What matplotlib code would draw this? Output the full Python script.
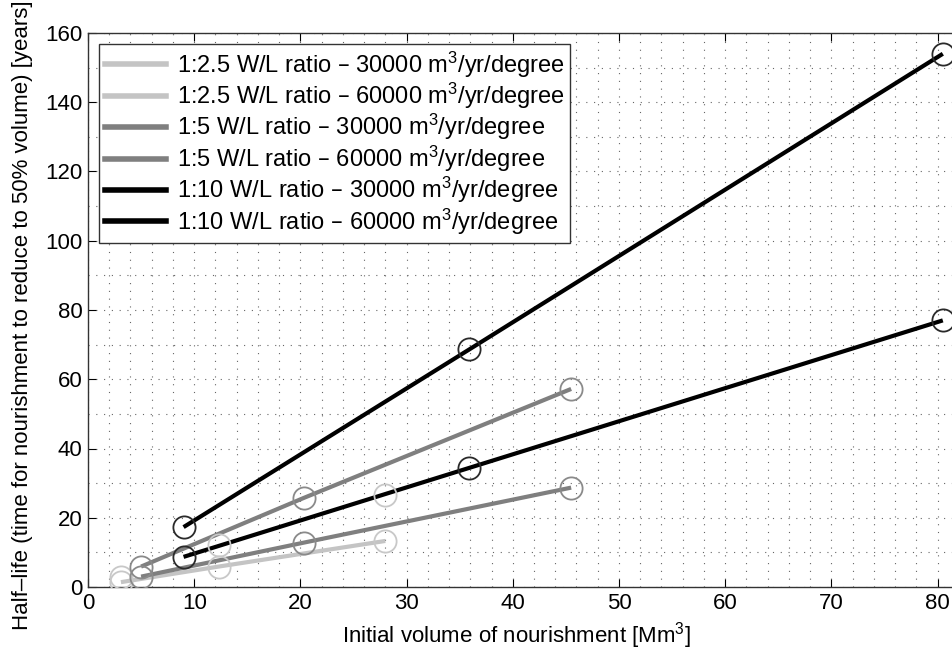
import matplotlib
matplotlib.use("Agg")
import matplotlib.pyplot as plt
from matplotlib.lines import Line2D
from matplotlib.ticker import MultipleLocator, FixedLocator

plt.rcParams['font.family'] = ['Liberation Sans', 'DejaVu Sans']
plt.rcParams['mathtext.default'] = 'regular'

# Data
labels = [
    "1:2.5 W/L ratio \u2013 30000 m$^3$/yr/degree",
    "1:2.5 W/L ratio \u2013 60000 m$^3$/yr/degree",
    "1:5 W/L ratio \u2013 30000 m$^3$/yr/degree",
    "1:5 W/L ratio \u2013 60000 m$^3$/yr/degree",
    "1:10 W/L ratio \u2013 30000 m$^3$/yr/degree",
    "1:10 W/L ratio \u2013 60000 m$^3$/yr/degree",
]
xtick_vals = [0, 10, 20, 30, 40, 50, 60, 70, 80]
vol_25 = [3.1, 12.3, 28.0]
vol_5 = [5.0, 20.3, 45.5]
vol_10 = [9.0, 35.9, 80.5]
half_25_30k = [2.8, 12.1, 26.6]
half_25_60k = [1.4, 5.9, 13.3]
half_5_30k = [5.9, 25.7, 57.2]
half_5_60k = [3.0, 12.8, 28.7]
half_10_30k = [17.3, 68.6, 154.0]
half_10_60k = [8.7, 34.4, 77.0]
draw_line = [False, True, True, True, True, True]

xs = [vol_25, vol_25, vol_5, vol_5, vol_10, vol_10]
ys = [half_25_30k, half_25_60k, half_5_30k, half_5_60k, half_10_30k, half_10_60k]
colors = ['#c4c4c4', '#c4c4c4', '#7f7f7f', '#7f7f7f', '#000000', '#000000']
mcolors = ['#c8c8c8', '#c8c8c8', '#8a8a8a', '#8a8a8a', '#2a2a2a', '#2a2a2a']

W, H = 952, 655
fig = plt.figure(figsize=(W / 100, H / 100), dpi=100)
x0, x80 = 88, 937.5
ppu = (x80 - x0) / 80
xmax = 90
ax_w = xmax * ppu
ax = fig.add_axes([x0 / W, (H - 587) / H, ax_w / W, (587 - 33) / H])

for x, y, c, mc, dl in zip(xs, ys, colors, mcolors, draw_line):
    if dl:
        ax.plot(x, y, color=c, lw=3.0, solid_capstyle='butt', zorder=3)
    ax.plot(x, y, linestyle='none', marker='o', markersize=16,
            markerfacecolor='none', markeredgecolor=mc, markeredgewidth=1.3, zorder=4)

ax.set_xlim(0, xmax)
ax.set_ylim(0, 160)
ax.xaxis.set_major_locator(FixedLocator(xtick_vals))
ax.yaxis.set_major_locator(MultipleLocator(20))
ax.xaxis.set_minor_locator(MultipleLocator(2))
ax.yaxis.set_minor_locator(MultipleLocator(10))
ax.grid(True, which='both', linestyle=(0, (1, 6)), color='#666666', linewidth=0.8)
ax.set_axisbelow(True)
ax.tick_params(which='major', direction='in', length=6, top=True, right=True,
               labelsize=16, pad=4)
ax.tick_params(which='minor', length=0)
for s in ax.spines.values():
    s.set_color('#333333')
    s.set_linewidth(1.0)

ax.set_xlabel("Initial volume of nourishment [Mm$^3$]", fontsize=16)
ax.xaxis.set_label_coords((516 - x0) / ax_w, -0.06)
ax.xaxis.label.set_va('top')
ax.set_ylabel("Half\u2013life (time for nourishment to reduce to 50% volume) [years]",
              fontsize=16)
ax.yaxis.set_label_coords((33 - x0) / ax_w, 0.49)

handles = [Line2D([], [], color=c, lw=4) for c in colors]
leg = ax.legend(handles, labels, loc='upper left', fontsize=17, frameon=True,
                fancybox=False, edgecolor='#333333', framealpha=1,
                handlelength=2.6, handletextpad=0.45, labelspacing=0.05,
                borderpad=0.25, borderaxespad=0.45)
leg.get_frame().set_linewidth(1.0)

fig.savefig("out.png", dpi=100)
